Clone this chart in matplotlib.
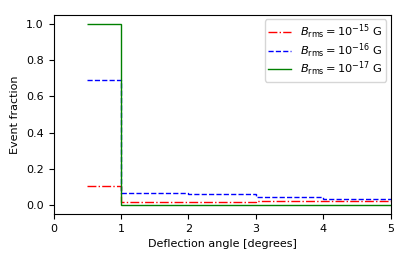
import matplotlib
matplotlib.use("Agg")
import matplotlib.pyplot as plt
import numpy as np

edges = [0.5, 1, 2, 3, 4, 5]
frac_15 = [0.105, 0.015, 0.018, 0.024, 0.022]
frac_16 = [0.689, 0.066, 0.059, 0.042, 0.035]
frac_17 = [1.0, 0.0, 0.0, 0.0, 0.0]
labels = [r"$B_{\rm rms} = 10^{-15}$ G", r"$B_{\rm rms} = 10^{-16}$ G", r"$B_{\rm rms} = 10^{-17}$ G"]

plt.rcParams['font.size'] = 8
fig = plt.figure(figsize=(4.07, 2.62), dpi=100)
ax = fig.add_axes([0.1315, 0.184, 0.8285, 0.759])
ax.stairs(frac_15, edges, color='red', linestyle='-.', linewidth=1, label=labels[0], baseline=None)
ax.stairs(frac_16, edges, color='blue', linestyle='--', linewidth=1, label=labels[1], baseline=None)
ax.stairs(frac_17, edges, color='green', linestyle='-', linewidth=1, label=labels[2], baseline=None)
ax.set_xlim(0, 5)
ax.set_ylim(-0.048, 1.048)
ax.set_xlabel("Deflection angle [degrees]")
ax.set_ylabel("Event fraction")
ax.legend(loc='upper right', labelspacing=0.0, fontsize=8.2, borderaxespad=0.4, borderpad=0.3)
fig.savefig("out.png", dpi=100)
